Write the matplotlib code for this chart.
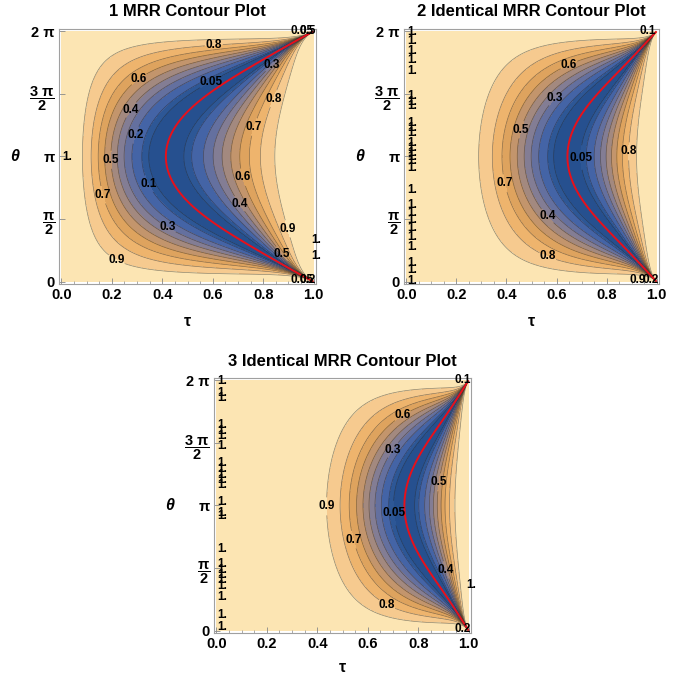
import numpy as np
import matplotlib.pyplot as plt

plt.rcParams['font.family'] = ['Liberation Sans', 'DejaVu Sans']
plt.rcParams['mathtext.fontset'] = 'custom'
plt.rcParams['mathtext.rm'] = 'Liberation Sans:bold'
plt.rcParams['mathtext.it'] = 'Liberation Sans:bold'
plt.rcParams['mathtext.bf'] = 'Liberation Sans:bold'

# ---------- data ----------
ring_counts = [1, 2, 3]
titles = ["1 MRR Contour Plot", "2 Identical MRR Contour Plot", "3 Identical MRR Contour Plot"]

contour_levels = [0.05, 0.1, 0.2, 0.3, 0.4, 0.5, 0.6, 0.7, 0.8, 0.9]
band_colors = ["#26508f", "#2d5796", "#4464a6", "#64709f", "#837d94", "#a3897f",
               "#c3956c", "#dea35e", "#eeb46d", "#f6ca8f", "#fce5b3"]

# single-ring response: zero curve tau^2 + 2 tau h(theta) - 1 = 0, width constant
width_c = 13.0
h_lin, h_cub = 0.6, 0.4

x_ticks = [0.0, 0.2, 0.4, 0.6, 0.8, 1.0]
x_ticklabels = ["0.0", "0.2", "0.4", "0.6", "0.8", "1.0"]
y_ticks = [0, np.pi / 2, np.pi, 3 * np.pi / 2, 2 * np.pi]
y_ticklabels = ["0", r"$\dfrac{\pi}{2}$", "π", r"$\dfrac{3\ \pi}{2}$", "2 π"]

# contour label spots (tau, theta), per level
label_spots = [
    {0.8: [(0.603, 6.03), (0.834, 4.61)], 0.3: [(0.815, 5.57), (0.404, 1.17)],
     0.6: [(0.298, 5.17), (0.709, 2.60)], 0.05: [(0.603, 4.90)],
     0.4: [(0.265, 4.36), (0.689, 1.885)], 0.7: [(0.755, 3.90), (0.166, 2.18)],
     0.2: [(0.291, 3.69)], 0.5: [(0.199, 3.06), (0.868, 0.67)],
     0.1: [(0.338, 2.43)], 0.9: [(0.905, 1.34), (0.232, 0.71)]},
    {0.6: [(0.64, 5.57)], 0.3: [(0.58, 4.675)], 0.5: [(0.46, 3.81)],
     0.05: [(0.693, 3.116)], 0.8: [(0.893, 3.27), (0.567, 0.67)],
     0.7: [(0.393, 2.47)], 0.4: [(0.553, 1.59)]},
    {0.6: [(0.728, 5.50)], 0.3: [(0.685, 4.60)], 0.5: [(0.877, 3.73)],
     0.9: [(0.43, 3.12)], 0.05: [(0.702, 2.95)], 0.7: [(0.54, 2.28)],
     0.4: [(0.897, 1.50)], 0.8: [(0.679, 0.687)]},
]

# stray "1." labels along the frame edges (tau, theta)
one_spots = [
    [(0.0, 3.14), (0.985, 1.05), (0.985, 0.645)],
    [(0.0, t) for t in [6.26, 6.03, 5.78, 5.57, 5.28, 4.65, 4.52, 4.40, 3.98, 3.85, 3.73,
                        3.48, 3.35, 3.22, 3.14, 3.02, 2.85, 2.30, 1.93, 1.72, 1.55, 1.34,
                        1.13, 0.88, 0.46, 0.29, 0.02]],
    [(0.0, t) for t in [6.26, 5.96, 5.84, 5.17, 5.00, 4.88, 4.64, 4.20, 4.05, 3.91, 3.79,
                        3.66, 3.22, 2.95, 2.87, 2.04, 1.68, 1.52, 1.40, 1.26, 1.11, 0.85,
                        0.39, 0.10]] + [(0.985, 1.15)],
]

# crowded labels where all contours meet at the right corners
corner_texts = [
    [("0.05", 0.955, 2 * np.pi), ("0.5", 0.975, 2 * np.pi), ("0.05", 0.955, 0.03), ("0.2", 0.975, 0.03)],
    [("0.1", 0.965, 2 * np.pi), ("0.9", 0.925, 0.03), ("0.2", 0.975, 0.03)],
    [("0.1", 0.975, 2 * np.pi), ("0.2", 0.975, 0.03)],
]

# axes frames in pixels: left, top, width, height
frames_px = [(59, 29, 257, 255), (404, 29, 255, 255), (214, 378, 257, 255)]
tau_label_gap = [38, 38, 34]
W, H = 689, 676


def zero_curve(t, th):
    s = np.sin(th / 2)
    h = s * (h_lin + h_cub * s ** 2)
    return t ** 2 + 2 * t * h - 1


def response(t, th):
    s = np.sin(th / 2)
    g = zero_curve(t, th)
    k = width_c * (t * (1 - t)) ** 2 * s * (1 - t * (1 - s))
    return (g ** 2 + 1e-15) / (g ** 2 + k + 1e-15)


tau = np.linspace(0, 1, 601)
theta = np.linspace(0, 2 * np.pi, 601)
T, TH = np.meshgrid(tau, theta)

fig = plt.figure(figsize=(W / 100, H / 100), dpi=100)


def fmt(v):
    return "1." if abs(v - 1) < 1e-9 else "%g" % v


for i, n in enumerate(ring_counts):
    l, t, w, h = frames_px[i]
    ax = fig.add_axes([l / W, 1 - (t + h) / H, w / W, h / H])

    F = response(T ** n, TH)
    G = zero_curve(T ** n, TH)

    ax.contourf(T, TH, F, levels=[0] + contour_levels + [1.001], colors=band_colors)
    for lev in contour_levels:
        cs = ax.contour(T, TH, F, levels=[lev], colors="#222222",
                        linewidths=0.5, alpha=0.5)
        spots = label_spots[i].get(lev)
        if spots:
            cs.clabel(manual=spots, inline=True, inline_spacing=1,
                      fmt=fmt, fontsize=8.5, colors="black")
            for txt in cs.labelTexts:
                txt.set_rotation(0)
                txt.set_fontweight("bold")
                txt.set_alpha(1)
    ax.contour(T, TH, G, levels=[0], colors="#e8101a", linewidths=1.4)

    for (x, y) in one_spots[i]:
        ax.text(x + 0.004, y, "1.", fontsize=8.5, fontweight="bold",
                ha="left", va="center")
    for (s, x, y) in corner_texts[i]:
        ax.text(x, y, s, fontsize=8.5, fontweight="bold", ha="center", va="center")

    ax.set_xlim(-0.0095, 1.0095)
    ax.set_ylim(-0.058, 2 * np.pi + 0.058)
    ax.set_xticks(x_ticks)
    ax.set_xticklabels(x_ticklabels)
    ax.set_xticks(np.arange(0, 1.001, 0.05), minor=True)
    ax.set_yticks(y_ticks)
    ax.set_yticklabels(y_ticklabels)
    ax.tick_params(direction="in", length=4, width=0.6, color="#888888",
                   labelsize=10.5, pad=3)
    ax.tick_params(which="minor", direction="in", length=2, width=0.5, color="#888888")
    for lab in ax.get_xticklabels() + ax.get_yticklabels():
        lab.set_fontweight("bold")
    for sp in ax.spines.values():
        sp.set_color("#a0a0a0")
        sp.set_linewidth(0.8)

    ax.text(0.5, 1 + 17 / h, titles[i], transform=ax.transAxes, ha="center",
            va="center", fontsize=12, fontweight="bold")
    ax.text(0.5, -tau_label_gap[i] / h, "τ", transform=ax.transAxes, ha="center",
            va="center", fontsize=11.5, fontweight="bold")
    ax.text(-44 / w, 0.5, "θ", transform=ax.transAxes, ha="center", va="center",
            fontsize=11.5, fontweight="bold", fontstyle="italic")

fig.savefig("out.png", dpi=100)
